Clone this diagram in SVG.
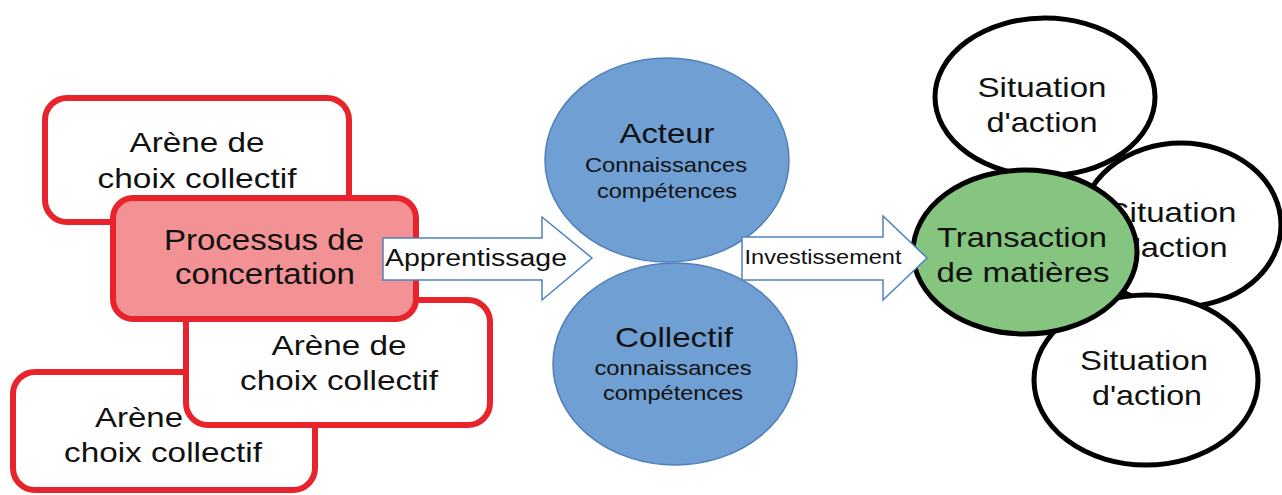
<svg xmlns="http://www.w3.org/2000/svg" width="1282" height="495" viewBox="0 0 1282 495">
<style>
  text { font-family: "Liberation Sans", Arial, sans-serif; fill: #111; text-anchor: middle; }
  .arena { fill: #ffffff; stroke: #e8232b; stroke-width: 6; }
  .proc { fill: #f29294; stroke: #e8232b; stroke-width: 6; }
  .blue { fill: #6f9fd3; stroke: #4f7fba; stroke-width: 1.5; }
  .sit { fill: #ffffff; stroke: #000; stroke-width: 5; }
  .green { fill: #86c57f; stroke: #000; stroke-width: 5; }
  .arrow { fill: #ffffff; stroke: #4f81bd; stroke-width: 1.5; }
  .t28 { font-size: 28px; }
  .t21 { font-size: 21px; }
</style>
<rect width="1282" height="495" fill="#ffffff"/>

<g id="arena-bottom-left">
  <rect class="arena" x="13" y="372" width="302" height="118" rx="22"/>
  <text class="t28" x="95" y="427" style="text-anchor:start" textLength="88" lengthAdjust="spacingAndGlyphs">Arène</text>
  <text class="t28" x="163" y="462" textLength="198" lengthAdjust="spacingAndGlyphs">choix collectif</text>
</g>
<g id="arena-middle">
  <rect class="arena" x="186" y="300" width="304" height="125" rx="22"/>
  <text class="t28" x="339" y="355" textLength="135" lengthAdjust="spacingAndGlyphs">Arène de</text>
  <text class="t28" x="339" y="390" textLength="198" lengthAdjust="spacingAndGlyphs">choix collectif</text>
</g>
<g id="arena-top">
  <rect class="arena" x="45" y="98" width="304" height="124" rx="22"/>
  <text class="t28" x="197" y="152" textLength="135" lengthAdjust="spacingAndGlyphs">Arène de</text>
  <text class="t28" x="197" y="188" textLength="199" lengthAdjust="spacingAndGlyphs">choix collectif</text>
</g>
<g id="processus">
  <rect class="proc" x="113" y="198" width="303" height="121" rx="20"/>
  <text class="t28" x="264" y="250" style="font-size:29px" textLength="200" lengthAdjust="spacingAndGlyphs">Processus de</text>
  <text class="t28" x="265" y="284" style="font-size:29px" textLength="180" lengthAdjust="spacingAndGlyphs">concertation</text>
</g>

<g id="acteur">
  <ellipse class="blue" cx="667" cy="160" rx="122" ry="102"/>
  <text x="667" y="143" style="font-size:28px" textLength="95" lengthAdjust="spacingAndGlyphs">Acteur</text>
  <text class="t21" x="666" y="172" textLength="162" lengthAdjust="spacingAndGlyphs">Connaissances</text>
  <text class="t21" x="667" y="198" textLength="140" lengthAdjust="spacingAndGlyphs">compétences</text>
</g>
<g id="collectif">
  <ellipse class="blue" cx="675" cy="364" rx="122" ry="101"/>
  <text x="674" y="347" style="font-size:28px" textLength="118" lengthAdjust="spacingAndGlyphs">Collectif</text>
  <text class="t21" x="673" y="375" textLength="157" lengthAdjust="spacingAndGlyphs">connaissances</text>
  <text class="t21" x="673" y="400" textLength="140" lengthAdjust="spacingAndGlyphs">compétences</text>
</g>

<g id="situation-top">
  <ellipse class="sit" cx="1045" cy="97" rx="110" ry="79"/>
  <text class="t28" x="1042" y="97" textLength="129" lengthAdjust="spacingAndGlyphs">Situation</text>
  <text class="t28" x="1042" y="132" textLength="111" lengthAdjust="spacingAndGlyphs">d'action</text>
</g>
<g id="situation-right">
  <ellipse class="sit" cx="1181" cy="225" rx="100" ry="82"/>
  <text class="t28" x="1172" y="222" textLength="129" lengthAdjust="spacingAndGlyphs">Situation</text>
  <text class="t28" x="1172" y="257" textLength="111" lengthAdjust="spacingAndGlyphs">d'action</text>
</g>
<g id="situation-bottom">
  <ellipse class="sit" cx="1146" cy="380" rx="112" ry="85"/>
  <text class="t28" x="1144" y="370" textLength="128" lengthAdjust="spacingAndGlyphs">Situation</text>
  <text class="t28" x="1147" y="405" textLength="110" lengthAdjust="spacingAndGlyphs">d'action</text>
</g>
<g id="transaction">
  <ellipse class="green" cx="1025" cy="252" rx="112" ry="82"/>
  <text class="t28" x="1022" y="247" textLength="170" lengthAdjust="spacingAndGlyphs">Transaction</text>
  <text class="t28" x="1023" y="282" textLength="173" lengthAdjust="spacingAndGlyphs">de matières</text>
</g>

<g id="connectors">
  <g id="arrow-apprentissage">
    <path class="arrow" d="M383,238 L542,238 L542,217 L592,258 L542,300 L542,280 L383,280 Z"/>
    <text x="476" y="266" style="font-size:23px" textLength="182" lengthAdjust="spacingAndGlyphs">Apprentissage</text>
  </g>
  <g id="arrow-investissement">
    <path class="arrow" d="M742,237 L883,237 L883,216 L927,258 L883,300 L883,280 L742,280 Z"/>
    <text x="823" y="264" style="font-size:20px" textLength="157" lengthAdjust="spacingAndGlyphs">Investissement</text>
  </g>
</g>
</svg>
